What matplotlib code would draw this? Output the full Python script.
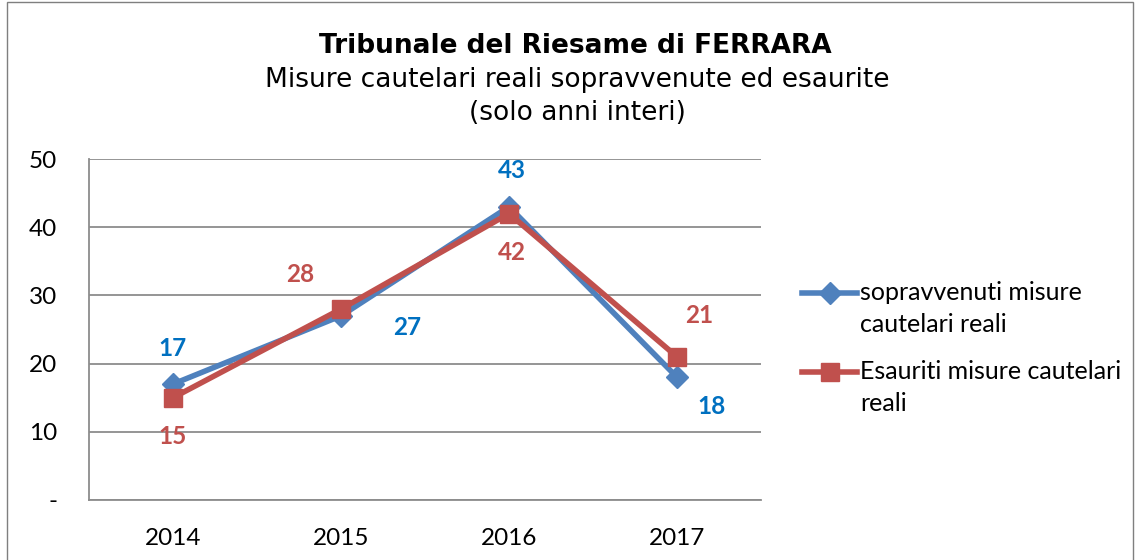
import matplotlib
matplotlib.use("Agg")
import matplotlib.pyplot as plt
from matplotlib.lines import Line2D
from matplotlib.patches import Rectangle

years = ["2014", "2015", "2016", "2017"]
sopravvenuti = [17, 27, 43, 18]
esauriti = [15, 28, 42, 21]
y_ticks = [0, 10, 20, 30, 40, 50]
y_ticklabels = ["-", "10", "20", "30", "40", "50"]

blue_line = "#4F81BD"
red_line = "#C0504D"
blue_lbl = "#0070C0"
red_lbl = "#C0504D"

W, H = 1139, 560
fig = plt.figure(figsize=(W / 100, H / 100), dpi=100)
fig.patch.set_facecolor("white")
fig.add_artist(Rectangle((7 / W, -0.01), (1133 - 7) / W, 1.0 - 2 / H + 0.01,
                         transform=fig.transFigure, fill=False,
                         edgecolor="#7f7f7f", linewidth=1.0))

ax = fig.add_axes([89 / W, 60 / H, 672 / W, 341 / H])
x = list(range(len(years)))
ax.plot(x, sopravvenuti, color=blue_line, lw=4.0, marker="D", ms=11,
        markeredgecolor=blue_line, zorder=3)
ax.plot(x, esauriti, color=red_line, lw=4.0, marker="s", ms=13,
        markeredgecolor=red_line, zorder=4)

ax.set_xlim(-0.5, 3.5)
ax.set_ylim(0, 50)
ax.set_xticks(x)
ax.set_xticklabels(years)
ax.set_yticks(y_ticks)
ax.set_yticklabels(y_ticklabels)
ax.grid(axis="y", color="#8c8c8c", lw=1.3)
ax.set_axisbelow(True)
for s in ["top", "right"]:
    ax.spines[s].set_visible(False)
for s in ["left", "bottom"]:
    ax.spines[s].set_color("#8c8c8c")
    ax.spines[s].set_linewidth(1.3)
ax.tick_params(axis="both", length=0, labelsize=17.5, labelcolor="black")
ax.tick_params(axis="y", pad=23)
ax.tick_params(axis="x", pad=20)
for lab in ax.get_xticklabels() + ax.get_yticklabels():
    lab.set_family("Lato")

blue_off = [(0, 36), (66, -12), (3, 36), (35, -29)]
red_off = [(0, -39), (-41, 35), (3, -39), (22, 41)]
for i in x:
    ax.annotate(str(sopravvenuti[i]), (i, sopravvenuti[i]), xytext=blue_off[i],
                textcoords="offset pixels", ha="center", va="center",
                color=blue_lbl, fontsize=17.5, fontweight="bold", family="Lato",
                annotation_clip=False)
    ax.annotate(str(esauriti[i]), (i, esauriti[i]), xytext=red_off[i],
                textcoords="offset pixels", ha="center", va="center",
                color=red_lbl, fontsize=17.5, fontweight="bold", family="Lato",
                annotation_clip=False)

fig.text(575 / W, 1 - 46 / H, "Tribunale del Riesame di FERRARA",
         ha="center", va="center", fontsize=19, fontweight="bold",
         family="DejaVu Sans")
fig.text(577 / W, 1 - 80 / H, "Misure cautelari reali sopravvenute ed esaurite",
         ha="center", va="center", fontsize=19, family="DejaVu Sans")
fig.text(577 / W, 1 - 113 / H, "(solo anni interi)",
         ha="center", va="center", fontsize=19, family="DejaVu Sans")

# legend
legend_items = [
    (blue_line, "D", 11, 293, "sopravvenuti misure\ncautelari reali"),
    (red_line, "s", 13, 372, "Esauriti misure cautelari\nreali"),
]
for col, mk, ms, yy, txt in legend_items:
    fy = 1 - yy / H
    fig.add_artist(Line2D([802 / W, 857 / W], [fy, fy], transform=fig.transFigure,
                          color=col, lw=4.0))
    fig.add_artist(Line2D([829.5 / W], [fy], transform=fig.transFigure,
                          color=col, marker=mk, ms=ms, markeredgecolor=col))
    fig.text(860 / W, fy + 12 / H, txt, ha="left", va="top", fontsize=18,
             family="Lato", linespacing=1.45)

fig.savefig("out.png", dpi=100)
